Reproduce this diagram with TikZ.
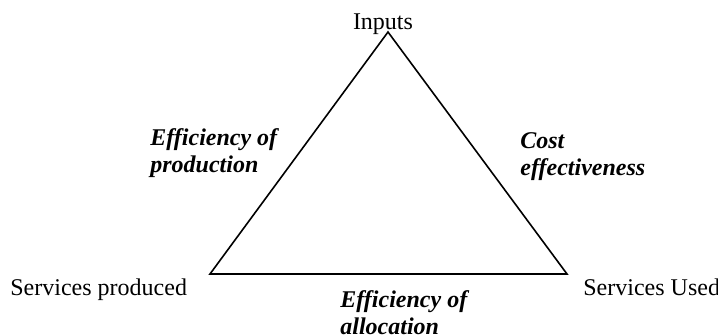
\documentclass[tikz,border=0pt]{standalone}
\usepackage{fontspec}
\setmainfont{Liberation Serif}
\begin{document}
\begin{tikzpicture}[x=1pt,y=1pt,
    every node/.style={inner sep=0pt,font=\fontsize{12}{13.5}\selectfont},
    side/.style={font=\fontsize{12}{13.5}\selectfont\bfseries\itshape,align=left,anchor=base west}]
    \useasboundingbox (0,0) rectangle (359,167);

    % corners of the triangle
    \coordinate (in) at (194,151);
    \coordinate (sp) at (105,30);
    \coordinate (su) at (283.5,30);
    \draw[line width=0.8pt] (in) -- (sp) -- (su) -- cycle;

    \node[anchor=base] at(191.5,152.5)(inputs){Inputs};
    \node[anchor=base west] at(5,19.5)(prod){Services produced};
    \node[anchor=base west] at(291.5,19.5)(used){Services Used};

    % labels of the sides (base = last line)
    \node[side] at(75,81)(effprod){Efficiency of\\production};
    \node[side] at(260,79.5)(cost){Cost\\effectiveness};
    \node[side] at(170,0)(effalloc){Efficiency of\\allocation};
\end{tikzpicture}
\end{document}
